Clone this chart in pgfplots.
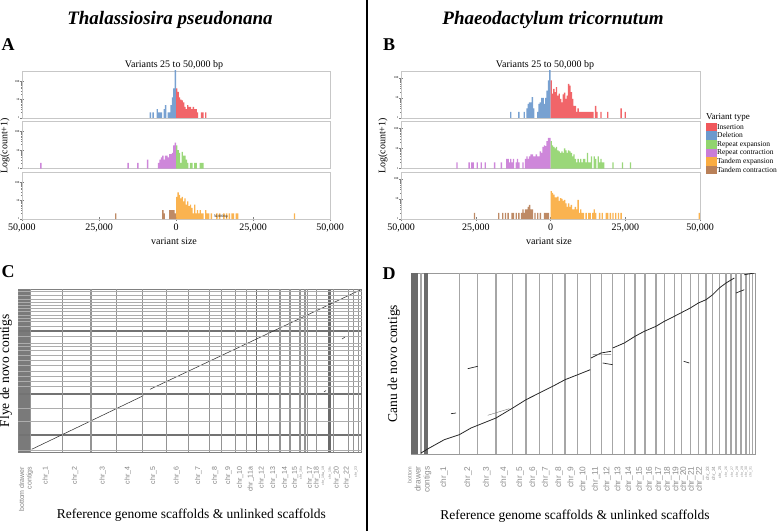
\documentclass[border=0pt]{standalone}
\usepackage{pgfplots}
\pgfplotsset{compat=1.18}
\usepackage{fontspec}
\setmainfont{Liberation Serif}
\newfontfamily\lsans{Liberation Sans}
\definecolor{insc}{RGB}{240,88,92}
\definecolor{delc}{RGB}{108,153,205}
\definecolor{repe}{RGB}{145,212,110}
\definecolor{repc}{RGB}{202,125,215}
\definecolor{tane}{RGB}{250,172,65}
\definecolor{tanc}{RGB}{185,128,88}
\begin{document}
\begin{tikzpicture}[x=1pt,y=1pt]
\path[use as bounding box] (0,0) rectangle (778,531);
% ---------- titles ----------
\node[font=\fontsize{19}{21}\selectfont\bfseries\itshape] at (170,511) {Thalassiosira pseudonana};
\node[font=\fontsize{19}{21}\selectfont\bfseries\itshape] at (553,511) {Phaeodactylum tricornutum};
\node[font=\fontsize{18}{20}\selectfont\bfseries] at (8,486) {A};
\node[font=\fontsize{18}{20}\selectfont\bfseries] at (389,486) {B};
\node[font=\fontsize{18}{20}\selectfont\bfseries] at (8,259) {C};
\node[font=\fontsize{18}{20}\selectfont\bfseries] at (389,257) {D};
\node[font=\fontsize{10}{12}\selectfont] at (174,466) {Variants 25 to 50,000 bp};
\node[font=\fontsize{10}{12}\selectfont] at (545,466) {Variants 25 to 50,000 bp};
\node[font=\fontsize{10}{12}\selectfont, rotate=90] at (5,385) {Log(count+1)};
\node[font=\fontsize{10}{12}\selectfont, rotate=90] at (383,385) {Log(count+1)};
\node[font=\fontsize{10}{12}\selectfont] at (174,289.5) {variant size};
\node[font=\fontsize{10}{12}\selectfont] at (549,289.5) {variant size};
\draw[line width=1.2pt] (367,0) -- (367,531);

% ================= Panel A =================
\begin{axis}[scale only axis, width=308pt, height=47pt, xmin=-50000, xmax=50000,
    ymode=log, ymin=1, ymax=350, axis line style={draw=black!22},
    xtick=\empty, ytick={1,10,100}, yticklabels={1,10,100},
    yticklabel style={font=\fontsize{3}{3}\selectfont, inner sep=0.6pt},
    tick align=center, ytick pos=left, major tick length=3.5pt, minor tick length=1.6pt,
    at={(22pt,413pt)}, anchor=south west]
\addplot[ybar, bar width=450, bar shift=0pt, draw=none, fill=delc, fill opacity=0.92] coordinates {(-225,400) (-675,40) (-1125,13) (-1575,5) (-2025,2) (-2475,2) (-3375,5) (-3825,3) (-4725,2) (-5175,2) (-5625,2) (-6075,3) (-7425,2) (-8325,2)};
\addplot[ybar, bar width=450, bar shift=0pt, draw=none, fill=insc, fill opacity=0.92] coordinates {(225,40) (675,26) (1125,13) (1575,10) (2025,9) (2475,7) (2925,4) (3375,3) (3825,5) (4275,4) (4725,4) (5175,3) (5625,4) (6075,3) (6525,3) (6975,2) (8325,2) (8775,2) (9675,2)};
\end{axis}
\begin{axis}[scale only axis, width=308pt, height=47pt, xmin=-50000, xmax=50000,
    ymode=log, ymin=1, ymax=350, axis line style={draw=black!22},
    xtick=\empty, ytick={1,10,100}, yticklabels={1,10,100},
    yticklabel style={font=\fontsize{3}{3}\selectfont, inner sep=0.6pt},
    tick align=center, ytick pos=left, major tick length=3.5pt, minor tick length=1.6pt,
    at={(22pt,362.5pt)}, anchor=south west]
\addplot[ybar, bar width=450, bar shift=0pt, draw=none, fill=repc, fill opacity=0.92] coordinates {(-225,25) (-675,18) (-1125,7) (-1575,6) (-2025,6) (-2475,4) (-2925,5) (-3375,5) (-3825,3) (-4275,5) (-4725,4) (-5175,3) (-5625,2) (-9225,3) (-12375,2) (-15525,2) (-43875,2)};
\addplot[ybar, bar width=450, bar shift=0pt, draw=none, fill=repe, fill opacity=0.92] coordinates {(225,18) (675,10) (1125,7) (1575,2) (2025,8) (2475,5) (2925,5) (3375,3) (3825,2) (4725,2) (5175,2) (6075,2) (6525,2) (7875,2) (8325,2) (8775,2)};
\end{axis}
\begin{axis}[scale only axis, width=308pt, height=47pt, xmin=-50000, xmax=50000,
    ymode=log, ymin=1, ymax=350, axis line style={draw=black!22},
    xtick={-50000,-25000,0,25000,50000}, scaled x ticks=false,
    xticklabels={{50,000},{25,000},0,{25,000},{50,000}},
    xticklabel style={font=\fontsize{10}{12}\selectfont},
    ytick={1,10,100}, yticklabels={1,10,100},
    yticklabel style={font=\fontsize{3}{3}\selectfont, inner sep=0.6pt},
    tick align=center, ytick pos=left, xtick pos=bottom, major tick length=3.5pt, minor tick length=1.6pt,
    at={(22pt,312pt)}, anchor=south west]
\addplot[ybar, bar width=450, bar shift=0pt, draw=none, fill=tanc, fill opacity=0.92] coordinates {(-225,2) (-675,3) (-1125,3) (-1575,3) (-2025,3) (-3825,2) (-4275,3) (-19575,2)};
\addplot[ybar, bar width=450, bar shift=0pt, draw=none, fill=tane, fill opacity=0.92] coordinates {(225,16) (675,28) (1125,20) (1575,13) (2025,16) (2475,9) (2925,13) (3375,6) (3825,9) (4275,5) (4725,6) (5175,4) (5625,2) (6075,6) (6525,2) (6975,3) (7425,2) (7875,3) (8325,2) (8775,2) (9675,3) (10125,2) (10575,2) (11475,2) (13275,2) (14175,2) (15525,2) (16425,2) (17325,2) (18225,2) (18675,2) (19575,2) (20025,2) (38475,2)};
\node[font=\fontsize{3.5}{4}\selectfont, inner sep=0.3pt] at (axis cs:14600,1.3) {50,000 bp};
\end{axis}

% ================= Panel B =================
\begin{axis}[scale only axis, width=299pt, height=47pt, xmin=-50000, xmax=50000,
    ymode=log, ymin=1, ymax=215, axis line style={draw=black!22},
    xtick=\empty, ytick={1,10,100}, yticklabels={1,10,100},
    yticklabel style={font=\fontsize{3}{3}\selectfont, inner sep=0.6pt},
    tick align=center, ytick pos=left, major tick length=3.5pt, minor tick length=1.6pt,
    at={(401pt,413pt)}, anchor=south west]
\addplot[ybar, bar width=450, bar shift=0pt, draw=none, fill=delc, fill opacity=0.92] coordinates {(-225,300) (-675,73) (-1125,23) (-1575,10) (-2025,5) (-2475,10) (-2925,10) (-3375,6) (-3825,5) (-4275,2) (-5625,3) (-6075,11) (-6525,6) (-6975,6) (-7425,5) (-7875,3) (-8775,2) (-10575,2) (-13275,2)};
\addplot[ybar, bar width=450, bar shift=0pt, draw=none, fill=insc, fill opacity=0.92] coordinates {(225,73) (675,16) (1125,28) (1575,19) (2025,34) (2475,13) (2925,16) (3375,9) (3825,6) (4275,15) (4725,18) (5175,9) (5625,13) (6075,50) (6525,40) (6975,19) (7425,9) (7875,4) (8325,4) (8775,2) (9225,3) (9675,2) (10125,2) (10575,2) (11025,2) (11475,2) (11925,2) (12375,2) (12825,2) (13275,2) (13725,2) (14175,2) (15075,4) (15525,2) (16875,2) (19125,2) (23625,3) (24975,2)};
\end{axis}
\begin{axis}[scale only axis, width=299pt, height=47pt, xmin=-50000, xmax=50000,
    ymode=log, ymin=1, ymax=215, axis line style={draw=black!22},
    xtick=\empty, ytick={1,10,100}, yticklabels={1,10,100},
    yticklabel style={font=\fontsize{3}{3}\selectfont, inner sep=0.6pt},
    tick align=center, ytick pos=left, major tick length=3.5pt, minor tick length=1.6pt,
    at={(401pt,362.5pt)}, anchor=south west,
    legend style={draw=none, fill=none, at={(1.018,0.975)}, anchor=north west,
      font=\fontsize{7.5}{8}\selectfont, inner sep=0pt, row sep=0pt,
      nodes={inner sep=0.5pt, text height=5.7pt, text depth=1.9pt}},
    legend cell align=left,
    legend image code/.code={\fill[#1] (0pt,-4.3pt) rectangle (11pt,4.3pt);}]
\addlegendimage{fill=insc, draw=none}\addlegendentry{Insertion}
\addlegendimage{fill=delc, draw=none}\addlegendentry{Deletion}
\addlegendimage{fill=repe, draw=none}\addlegendentry{Repeat expansion}
\addlegendimage{fill=repc, draw=none}\addlegendentry{Repeat contraction}
\addlegendimage{fill=tane, draw=none}\addlegendentry{Tandem expansion}
\addlegendimage{fill=tanc, draw=none}\addlegendentry{Tandem contraction}
\addplot[ybar, bar width=450, bar shift=0pt, draw=none, fill=repc, fill opacity=0.92, forget plot] coordinates {(-225,33) (-675,33) (-1125,23) (-1575,13) (-2025,14) (-2475,12) (-2925,6) (-3375,7) (-3825,4) (-4275,4) (-4725,5) (-5175,4) (-5625,4) (-6075,5) (-6525,5) (-6975,4) (-7425,3) (-7875,4) (-8325,3) (-9225,2) (-10575,2) (-11025,3) (-11475,2) (-12375,3) (-12825,2) (-13275,3) (-13725,2) (-14175,3) (-14625,3) (-16425,2) (-18675,2) (-21825,2) (-23175,2) (-24525,2) (-25875,2) (-26325,2) (-27225,2) (-31275,2)};
\addplot[ybar, bar width=450, bar shift=0pt, draw=none, fill=repe, fill opacity=0.92, forget plot] coordinates {(225,23) (675,14) (1125,12) (1575,10) (2025,12) (2475,8) (2925,7) (3375,6) (3825,7) (4275,6) (4725,10) (5175,8) (5625,6) (6075,8) (6525,7) (6975,6) (7425,4) (7875,5) (8325,3) (8775,2) (9225,3) (9675,2) (10125,3) (10575,2) (11025,3) (11475,3) (11925,2) (12375,6) (12825,2) (13275,2) (13725,4) (14625,4) (15075,3) (15975,4) (16425,2) (16875,3) (17325,2) (17775,2) (20925,2) (24075,2) (26775,2)};
\end{axis}
\node[font=\fontsize{9}{10}\selectfont, anchor=west, inner sep=0pt] at (706,414) {Variant type};
\begin{axis}[scale only axis, width=299pt, height=47pt, xmin=-50000, xmax=50000,
    ymode=log, ymin=1, ymax=215, axis line style={draw=black!22},
    xtick={-50000,-25000,0,25000,50000}, scaled x ticks=false,
    xticklabels={{50,000},{25,000},0,{25,000},{50,000}},
    xticklabel style={font=\fontsize{10}{12}\selectfont},
    ytick={1,10,100}, yticklabels={1,10,100},
    yticklabel style={font=\fontsize{3}{3}\selectfont, inner sep=0.6pt},
    tick align=center, ytick pos=left, xtick pos=bottom, major tick length=3.5pt, minor tick length=1.6pt,
    at={(401pt,312pt)}, anchor=south west]
\addplot[ybar, bar width=450, bar shift=0pt, draw=none, fill=tanc, fill opacity=0.92] coordinates {(-675,2) (-1125,2) (-1575,2) (-2025,2) (-3375,2) (-4275,2) (-5175,2) (-6075,3) (-6525,3) (-6975,5) (-7425,4) (-7875,3) (-8325,3) (-8775,2) (-9225,3) (-9675,2) (-10575,2) (-11475,2) (-12375,2) (-12825,2) (-14175,2) (-15075,2) (-15975,2) (-17325,2) (-25425,2)};
\addplot[ybar, bar width=450, bar shift=0pt, draw=none, fill=tane, fill opacity=0.92] coordinates {(225,24) (675,20) (1125,16) (1575,12) (2025,12) (2475,13) (2925,8) (3375,11) (3825,10) (4275,8) (4725,9) (5175,6) (5625,4) (6075,6) (6525,4) (6975,5) (7425,3) (7875,3) (8325,4) (8775,3) (9225,9) (9675,2) (10125,3) (10575,2) (11025,2) (11925,2) (12825,2) (13275,2) (14175,2) (14625,3) (15075,2) (16425,2) (17325,2) (18675,2) (19125,2) (20025,2) (20925,2) (21825,2) (22725,2) (23625,2) (49725,2)};
\end{axis}

% ================= Panel C =================
\begin{axis}[at={(18pt,78.7pt)}, anchor=south west, scale only axis,
  width=343.7pt, height=163.3pt, xmin=0, xmax=34.37, ymin=0, ymax=16.33,
  axis line style={draw=black!50, line width=1pt}, axis on top,
  xtick={0.8,2.77,5.7,8.47,10.97,13.53,15.87,18.03,19.7,21.03,22.2,23.27,24.37,25.53,26.7,27.7,28.3,29.2,29.87,30.53,31.2,31.87,32.87,33.8},
  xticklabels={{bottom drawer\\contigs},chr\_1,chr\_2,chr\_3,chr\_4,chr\_5,chr\_6,chr\_7,chr\_8,chr\_9,chr\_10,chr\_11a,chr\_12,chr\_13,chr\_14,chr\_15,{\fontsize{3.5}{4}\selectfont chr\_16a},chr\_17,chr\_18,{\fontsize{3.5}{4}\selectfont chr\_19a\_19},{\fontsize{3.5}{4}\selectfont chr\_19c},chr\_20,chr\_22,{\fontsize{3.5}{4}\selectfont chr\_23}},
  xticklabel style={rotate=90, anchor=east, align=right, text=black!50, font=\lsans\fontsize{7}{7.5}\selectfont},
  xticklabel shift=11pt, major tick length=0pt, ytick=\empty,
  extra x ticks={1.27,4.43,7.3,9.87,12.47,14.87,17.03,19.13,20.37,21.77,22.87,25.03,26.2,27.2,28.2,28.7,28.93,29.87,31.53,33.03,33.53,34.03},
  extra x tick labels={}, extra x tick style={grid=major, major grid style={black!42, line width=1.1pt}},
  extra y ticks={16.13,15.73,15.3,14.96,14.73,14.4,14.06,13.73,13.4,13.06,12.63,11.56,10.9,10.56,10.23,9.73,9.23,8.73,8.06,7.56,7.06,6.56,4.4,3.06,0.23},
  extra y tick labels={}, extra y tick style={grid=major, major grid style={black!32, line width=0.85pt}},
  unbounded coords=jump]
\addplot[fill=black!52, draw=none] coordinates {(0,0) (1.27,0) (1.27,16.33) (0,16.33)} -- cycle;
\addplot[black!58, line width=1.2pt] coordinates {(23.87,0) (23.87,16.33) (nan,nan) (31.03,0) (31.03,16.33) (nan,nan) (31.2,0) (31.2,16.33)};
\addplot[black!55, line width=1.1pt] coordinates {(0,12.13) (34.37,12.13) (nan,nan) (0,5.83) (34.37,5.83) (nan,nan) (0,1.73) (34.37,1.73)};
\addplot[black!80, line width=0.55pt] coordinates {(1.37,0.3) (12.53,5.66) (nan,nan) (13.2,6.3) (34.37,16.3)};
\addplot[black!80, line width=0.55pt] coordinates {(32.4,11.33) (32.7,11.53) (nan,nan) (30.6,6.03) (30.8,6.18)};
\end{axis}
\node[font=\fontsize{13.5}{15}\selectfont] at (191.3,16) {Reference genome scaffolds \& unlinked scaffolds};
\node[font=\fontsize{13.5}{15}\selectfont, rotate=90] at (6,160.3) {Flye de novo contigs};

% ================= Panel D =================
\begin{axis}[at={(411pt,77pt)}, anchor=south west, scale only axis,
  width=344pt, height=181pt, xmin=0, xmax=34.4, ymin=0, ymax=18.1,
  axis line style={draw=black!40, line width=0.9pt},
  xtick={0.85,3.3,5.7,7.57,9.3,10.9,12.2,13.47,14.8,16.03,17.23,18.47,19.63,20.73,21.8,22.87,23.87,24.8,25.67,26.53,27.3,28.07,28.87,29.7,30.3,30.9,31.53,32.13,32.63,33.13,33.53,33.97},
  xticklabels={{\fontsize{5.5}{6}\selectfont bottom\\drawer\\contigs},chr\_1,chr\_2,chr\_3,chr\_4,chr\_5,chr\_6,chr\_7,chr\_8,chr\_9,chr\_10,chr\_11,chr\_12,chr\_13,chr\_14,chr\_15,chr\_16,chr\_17,chr\_18,chr\_19,chr\_20,chr\_21,chr\_22,{\fontsize{4.6}{5}\selectfont chr\_23},{\fontsize{4.6}{5}\selectfont chr\_24},{\fontsize{4}{5}\selectfont chr\_25},{\fontsize{3.5}{4}\selectfont chr\_26},{\fontsize{3.5}{4}\selectfont chr\_27},{\fontsize{3.5}{4}\selectfont chr\_28},{\fontsize{3.5}{4}\selectfont chr\_29},{\fontsize{3.5}{4}\selectfont chr\_30},{\fontsize{3.5}{4}\selectfont chr\_31}},
  xticklabel style={rotate=90, anchor=east, align=right, text=black!45, font=\lsans\fontsize{8.3}{9}\selectfont},
  xticklabel shift=9pt, major tick length=0pt, ytick=\empty,
  extra x ticks={1.0,4.83,6.67,8.5,10.17,11.5,12.83,14.17,15.4,16.67,17.93,19.07,20.17,21.33,22.4,23.4,24.5,25.33,26.33,27.07,27.93,28.73,29.5,30.17,30.83,31.5,32.0,32.5,33.0,33.5,33.83,34.17},
  extra x tick labels={}, extra x tick style={grid=major, major grid style={black!35, line width=1.1pt}},
  unbounded coords=jump]
\addplot[fill=black!58, draw=none] coordinates {(0,0) (0.73,0) (0.73,18.1) (0,18.1)} -- cycle;
\addplot[fill=black!58, draw=none] coordinates {(1.27,0) (1.73,0) (1.73,18.1) (1.27,18.1)} -- cycle;
\addplot[black!85, line width=0.8pt] coordinates {(1.0,0.1) (1.83,0.6) (3.33,1.43) (4.83,1.93) (6.0,2.6) (8.5,3.6) (10.17,4.6) (11.5,5.43) (12.83,6.1) (14.17,6.77) (15.4,7.43) (16.67,7.93) (17.93,8.43) (nan,nan) (18.0,9.6) (19.0,10.1) (20.0,10.27) (nan,nan) (20.17,10.6) (21.33,11.1) (22.4,11.77) (23.33,12.27) (24.5,12.77) (25.33,13.27) (26.33,13.77) (27.93,14.6) (28.73,15.1) (29.5,15.43) (30.17,15.93) (30.83,16.6) (31.5,17.1) (32.33,17.6) (nan,nan) (33.33,17.93) (34.33,18.1)};
\addplot[black!85, line width=0.7pt] coordinates {(5.67,8.53) (6.67,8.77) (nan,nan) (19.17,9.1) (20.17,8.93) (nan,nan) (27.27,9.27) (27.83,9.1) (nan,nan) (32.5,16.1) (33.33,16.43) (nan,nan) (4.0,4.03) (4.5,4.1)};
\addplot[black!55, line width=0.4pt] coordinates {(7.67,3.87) (9.83,4.53) (nan,nan) (18.17,9.93) (20.0,9.97)};
\end{axis}
\node[font=\fontsize{13.5}{15}\selectfont] at (575,15) {Reference genome scaffolds \& unlinked scaffolds};
\node[font=\fontsize{13.5}{15}\selectfont, rotate=90] at (394,167.5) {Canu de novo contigs};
\end{tikzpicture}
\end{document}
